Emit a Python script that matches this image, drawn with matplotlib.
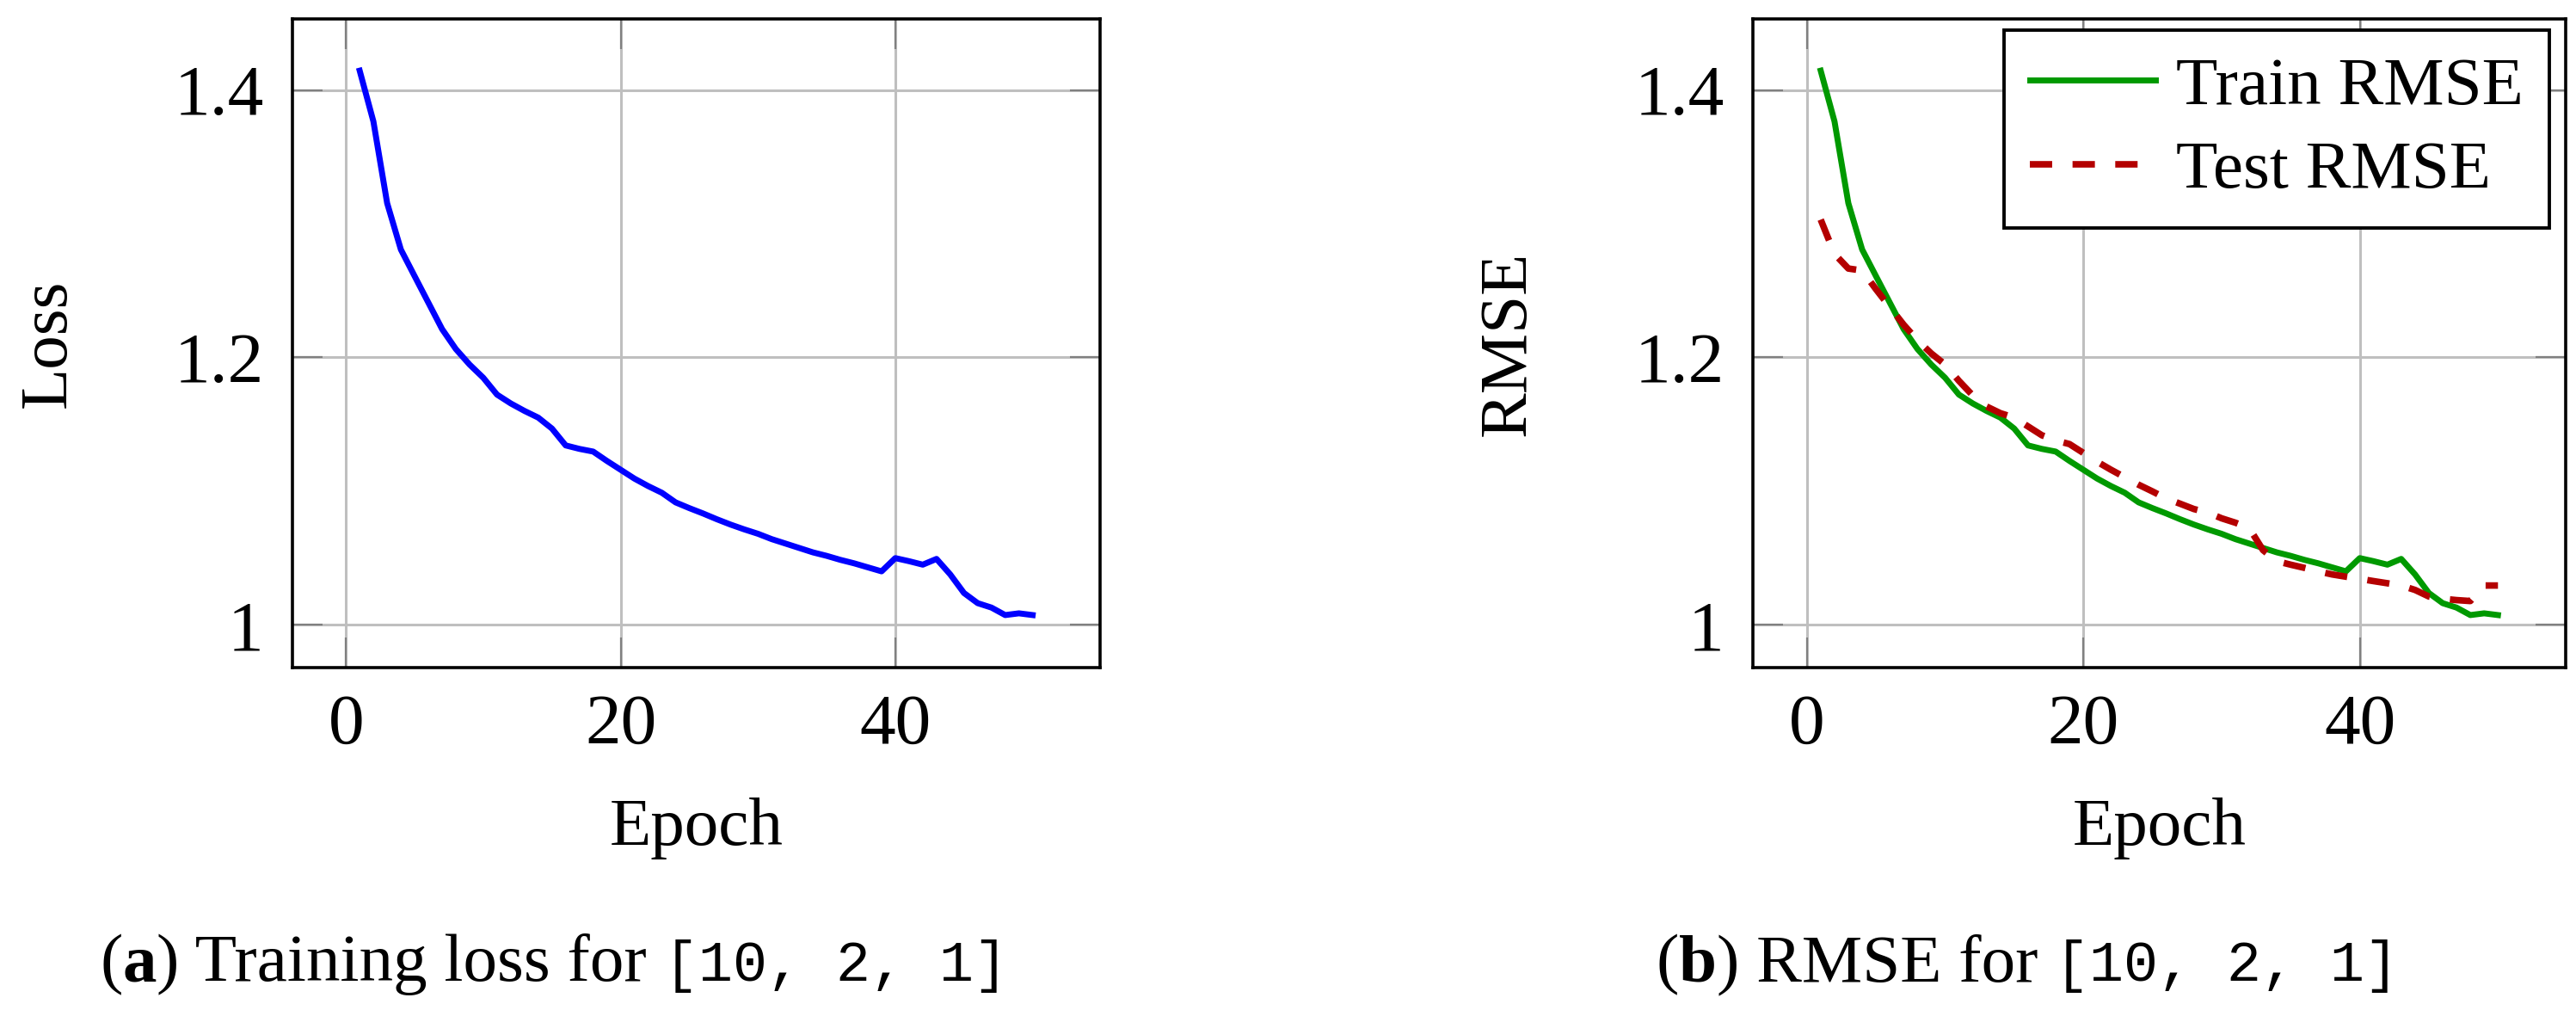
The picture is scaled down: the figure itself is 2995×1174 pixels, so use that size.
import matplotlib
matplotlib.use('Agg')
import matplotlib.pyplot as plt
from matplotlib.offsetbox import TextArea, HPacker, AnnotationBbox

plt.rcParams['font.family'] = ['Liberation Serif', 'DejaVu Serif']

epochs = list(range(1, 51))
train_loss = [1.4145, 1.3765, 1.3154, 1.2807, 1.2608, 1.2410, 1.2212, 1.2063, 1.1947, 1.1848,
              1.1722, 1.1656, 1.1600, 1.1550, 1.1468, 1.1342, 1.1316, 1.1296, 1.1226, 1.1160,
              1.1094, 1.1038, 1.0988, 1.0916, 1.0873, 1.0833, 1.0790, 1.0750, 1.0714, 1.0681,
              1.0641, 1.0608, 1.0575, 1.0542, 1.0516, 1.0486, 1.0460, 1.0430, 1.0400, 1.0499,
              1.0476, 1.0450, 1.0493, 1.0377, 1.0238, 1.0162, 1.0129, 1.0073, 1.0086, 1.0073]
train_rmse = train_loss
test_rmse = [1.3031, 1.2774, 1.2665, 1.2650, 1.2510, 1.2377, 1.2245, 1.2129, 1.2030, 1.1947,
             1.1825, 1.1716, 1.1633, 1.1583, 1.1550, 1.1484, 1.1418, 1.1379, 1.1352, 1.1286,
             1.1220, 1.1160, 1.1104, 1.1048, 1.0998, 1.0945, 1.0906, 1.0866, 1.0840, 1.0797,
             1.0764, 1.0724, 1.0559, 1.0476, 1.0450, 1.0426, 1.0400, 1.0377, 1.0360, 1.0344,
             1.0327, 1.0311, 1.0294, 1.0261, 1.0212, 1.0195, 1.0185, 1.0178, 1.0294, 1.0294]

xticks = [0, 20, 40]
yticks = [1.0, 1.2, 1.4]
ytick_labels = ['1', '1.2', '1.4']

FS_TICK = 60
FS_LAB = 57

fig = plt.figure(figsize=(29.95, 11.74), dpi=100)
ax1 = fig.add_axes([0.1135, 0.339, 0.3135, 0.642])
ax2 = fig.add_axes([0.6805, 0.339, 0.3155, 0.642])


def style(ax, ylabel):
    ax.set_xlim(-3.9, 54.9)
    ax.set_ylim(0.968, 1.453)
    ax.set_xticks(xticks)
    ax.set_yticks(yticks)
    ax.set_yticklabels(ytick_labels)
    ax.grid(True, color='#bfbfbf', linewidth=2.2)
    ax.tick_params(direction='in', length=25, width=1.6, color='#808080',
                   top=True, right=True, labelsize=FS_TICK, pad=22)
    ax.tick_params(axis='y', pad=24)
    for s in ax.spines.values():
        s.set_linewidth(2.6)
    ax.set_xlabel('Epoch', fontsize=FS_LAB)
    ax.xaxis.set_label_coords(0.5, -0.273)
    ax.xaxis.label.set_verticalalignment('baseline')
    ax.set_ylabel(ylabel, fontsize=FS_LAB)
    ax.yaxis.set_label_coords(-0.263, 0.5)


style(ax1, 'Loss')
ax1.plot(epochs, train_loss, color='#0000ff', linewidth=5)

style(ax2, 'RMSE')
ax2.plot(epochs, train_rmse, color='#009900', linewidth=5, label='Train RMSE')
ax2.plot(epochs, test_rmse, color='#b40000', linewidth=5.5,
         linestyle=(0, (3.4, 3.1)), dash_capstyle='butt', label='Test RMSE')
leg = ax2.legend(loc='upper right', bbox_to_anchor=(0.98, 0.983), borderaxespad=0,
                 fontsize=FS_LAB, fancybox=False, framealpha=1, edgecolor='black',
                 handlelength=1.85, handletextpad=0.3, borderpad=0.38, labelspacing=0.32)
leg.get_frame().set_linewidth(2.8)


def caption(x, letter, text):
    parts = [TextArea('(', textprops=dict(fontsize=FS_LAB)),
             TextArea(letter, textprops=dict(fontsize=FS_LAB, fontweight='bold')),
             TextArea(') ' + text + ' ', textprops=dict(fontsize=FS_LAB)),
             TextArea('[10, 2, 1]', textprops=dict(fontsize=48, family='Liberation Mono'))]
    box = HPacker(children=parts, pad=0, sep=0, align='baseline')
    ab = AnnotationBbox(box, (x, 0.045), xycoords='figure fraction', frameon=False,
                        box_alignment=(0.5, 0.5))
    fig.add_artist(ab)


caption(0.215, 'a', 'Training loss for')
caption(0.787, 'b', 'RMSE for')

fig.savefig('out.png', dpi=100)
